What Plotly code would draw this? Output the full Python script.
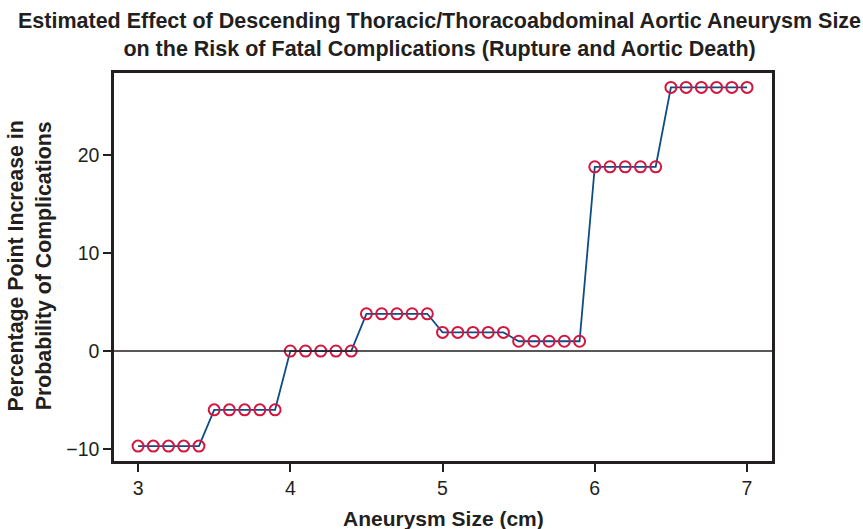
import plotly.graph_objects as go

sizes = [round(3.0 + 0.1 * i, 1) for i in range(41)]
effect = ([-9.7] * 5 + [-6.0] * 5 + [0.0] * 5 + [3.8] * 5 + [1.9] * 5 +
          [1.0] * 5 + [18.8] * 5 + [26.9] * 6)
x_ticks = [3, 4, 5, 6, 7]
y_ticks = [-10, 0, 10, 20]
y_tick_text = ["\u221210", "0", "10", "20"]

TXT = "#231f20"
FONT = "Liberation Sans, Arial, sans-serif"

fig = go.Figure()
fig.add_trace(go.Scatter(
    x=sizes, y=effect, mode="lines+markers",
    line=dict(color="#0f4c85", width=1.8),
    marker=dict(symbol="circle-open", size=11, color="#d4163f", line=dict(width=2)),
    showlegend=False,
))
fig.add_hline(y=0, line=dict(color=TXT, width=1.6))

annotations = [
    dict(text="<b>Estimated Effect of Descending Thoracic/Thoracoabdominal Aortic Aneurysm Size<br>on the Risk of Fatal Complications (Rupture and Aortic Death)</b>",
         xref="paper", yref="paper", x=0.4954, y=1.17, xanchor="center", yanchor="top",
         showarrow=False, font=dict(size=21.5, color=TXT, family=FONT)),
    dict(text="<b>Percentage Point Increase in<br>Probability of Complications</b>",
         xref="paper", yref="paper", x=-0.127, y=0.5026, xanchor="center", yanchor="middle",
         textangle=-90, showarrow=False, font=dict(size=21.3, color=TXT, family=FONT)),
    dict(text="<b>Aneurysm Size (cm)</b>",
         xref="paper", yref="paper", x=0.5, y=-0.147, xanchor="center", yanchor="middle",
         showarrow=False, font=dict(size=21, color=TXT, family=FONT)),
]

fig.update_layout(
    width=863, height=529,
    margin=dict(l=114, r=91, t=73, b=68),
    paper_bgcolor="white", plot_bgcolor="white",
    font=dict(family=FONT, color=TXT, size=19.5),
    annotations=annotations,
    xaxis=dict(
        range=[2.842, 7.164], tickvals=x_ticks, ticks="outside", ticklen=8, tickwidth=1.5,
        tickcolor=TXT, showgrid=False, zeroline=False, showline=True, linecolor=TXT, linewidth=2.5,
        mirror=True, tickfont=dict(size=19.5, color=TXT),
    ),
    yaxis=dict(
        range=[-11.22, 28.37], tickvals=y_ticks, ticktext=y_tick_text, ticks="outside",
        ticklen=8, tickwidth=1.5, tickcolor=TXT, showgrid=False, zeroline=False, showline=True,
        linecolor=TXT, linewidth=2.5, mirror=True, tickfont=dict(size=19.5, color=TXT),
    ),
)
fig.write_html("out.html")
